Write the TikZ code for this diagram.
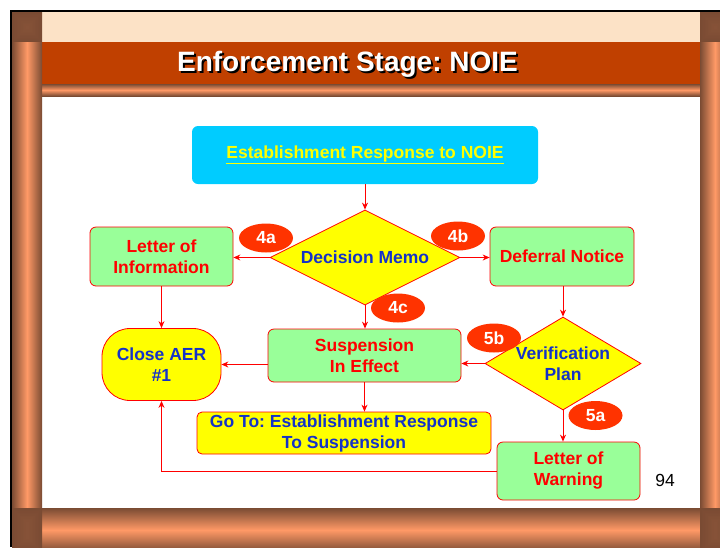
\documentclass[tikz,border=0pt]{standalone}
\usepackage{fontspec}
\setmainfont{Liberation Sans}
\usetikzlibrary{shapes.geometric,arrows.meta}

\definecolor{pipelight}{RGB}{255,153,102}
\definecolor{pipedark}{RGB}{122,75,51}
\definecolor{headband}{RGB}{252,226,198}
\definecolor{titlebar}{RGB}{192,64,0}
\definecolor{boxgreen}{RGB}{153,255,153}
\definecolor{boxyellow}{RGB}{255,255,0}
\definecolor{textblue}{RGB}{20,50,200}
\definecolor{numred}{RGB}{255,51,0}
\definecolor{topcyan}{RGB}{0,204,255}

\begin{document}
\frenchspacing
\begin{tikzpicture}
[x=1pt,y=-1pt,
every node/.style={font=\bfseries\fontsize{17.5}{21}\selectfont,align=center,inner sep=0pt},
greenbox/.style={rectangle,rounded corners=6pt,draw=red,line width=0.8pt,fill=boxgreen,text=red},
yellowbox/.style={rectangle,rounded corners=5pt,draw=red,line width=0.8pt,fill=boxyellow,text=textblue},
decision/.style={diamond,draw=red,line width=0.8pt,fill=boxyellow,text=textblue},
numtag/.style={ellipse,fill=numred,text=white,minimum width=54pt,minimum height=29pt},
flow/.style={draw=red,line width=1pt,-{Stealth[length=7pt,width=6pt]}}]

\useasboundingbox (0,0) rectangle (720,547);

% frame
\fill[headband] (42,12) rectangle (700,42);
\fill[titlebar] (42,42) rectangle (700,84);
\shade[top color=pipedark,bottom color=pipedark,middle color=pipelight] (42,84) rectangle (700,96);
\shade[top color=pipedark,bottom color=pipedark,middle color=pipelight] (42,508) rectangle (700,552);
\shade[left color=pipedark,right color=pipedark,middle color=pipelight] (12,12) rectangle (42,552);
\shade[left color=pipedark,right color=pipedark,middle color=pipelight] (700,12) rectangle (730,552);
\foreach \cx/\cy/\hw/\hh in {27/27/15/15, 715/27/15/15, 27/530/15/22, 715/530/15/22}
  \foreach \k [evaluate=\k as \p using int(\k*10)] in {0,...,9}
    \fill[pipelight!\p!pipedark] (\cx-\hw+\k*1.5,\cy-\hh+\k*1.5) rectangle (\cx+\hw-\k*1.5,\cy+\hh-\k*1.5);
\draw[line width=2pt] (11,547) -- (11,11) -- (720,11);

% title
\node[text=black,font=\bfseries\fontsize{28}{32}\selectfont] (titleshadow) at (349.5,66) {Enforcement Stage: NOIE};
\node[text=white,font=\bfseries\fontsize{28}{32}\selectfont] (title) at (347.5,64) {Enforcement Stage: NOIE};

% boxes
\node[rectangle,rounded corners=6pt,fill=topcyan,text=boxyellow,minimum width=346pt,minimum height=58pt] (resp) at (365,155) {\underline{Establishment Response to NOIE}};
\node[decision,minimum width=190pt,minimum height=95pt,aspect=2] (memo) at (365,257.5) {Decision Memo};
\node[greenbox,minimum width=143pt,minimum height=59pt] (info) at (161.5,256.5) {Letter of\\Information};
\node[greenbox,minimum width=144pt,minimum height=59pt] (defer) at (562,256.5) {Deferral Notice};
\node[greenbox,minimum width=193pt,minimum height=53pt] (susp) at (364.5,355.5) {Suspension\\In Effect};
\node[decision,minimum width=156pt,minimum height=93pt,aspect=1.6] (verif) at (563,363.5) {Verification\\Plan};
\node[yellowbox,rounded corners=28pt,minimum width=119pt,minimum height=72pt] (close) at (161.5,364.5) {Close AER\\\#1};
\node[yellowbox,minimum width=294pt,minimum height=42pt] (goto) at (344,433) {Go To: Establishment Response\\To Suspension};
\node[greenbox,minimum width=143pt,minimum height=58pt] (warn) at (568.5,471) {Letter of\\Warning};
\node[font=\fontsize{17.5}{21}\selectfont] (page) at (665,480) {94};

% connectors
\draw[flow] (resp) -- (memo);
\draw[flow] (memo.west) -- (memo.west -| info.east);
\draw[flow] (memo.east) -- (memo.east -| defer.west);
\draw[flow] (memo.south) -- (memo.south |- susp.north);
\draw[flow] (info.south) -- (close.north);
\draw[flow] (verif.north |- defer.south) -- (verif.north);
\draw[flow] (verif.west) -- (verif.west -| susp.east);
\draw[flow] (susp.west |- close.east) -- (close.east);
\draw[flow] (susp.south) -- (susp.south |- goto.north);
\draw[flow] (verif.south) -- (verif.south |- warn.north);
\draw[flow] (warn.west) -| (close.south);

% step tags
\node[numtag] (tag4a) at (266,238) {4a};
\node[numtag] (tag4b) at (458,236) {4b};
\node[numtag] (tag4c) at (398,308) {4c};
\node[numtag] (tag5b) at (494,338) {5b};
\node[numtag] (tag5a) at (595.5,415.5) {5a};
\end{tikzpicture}
\end{document}
